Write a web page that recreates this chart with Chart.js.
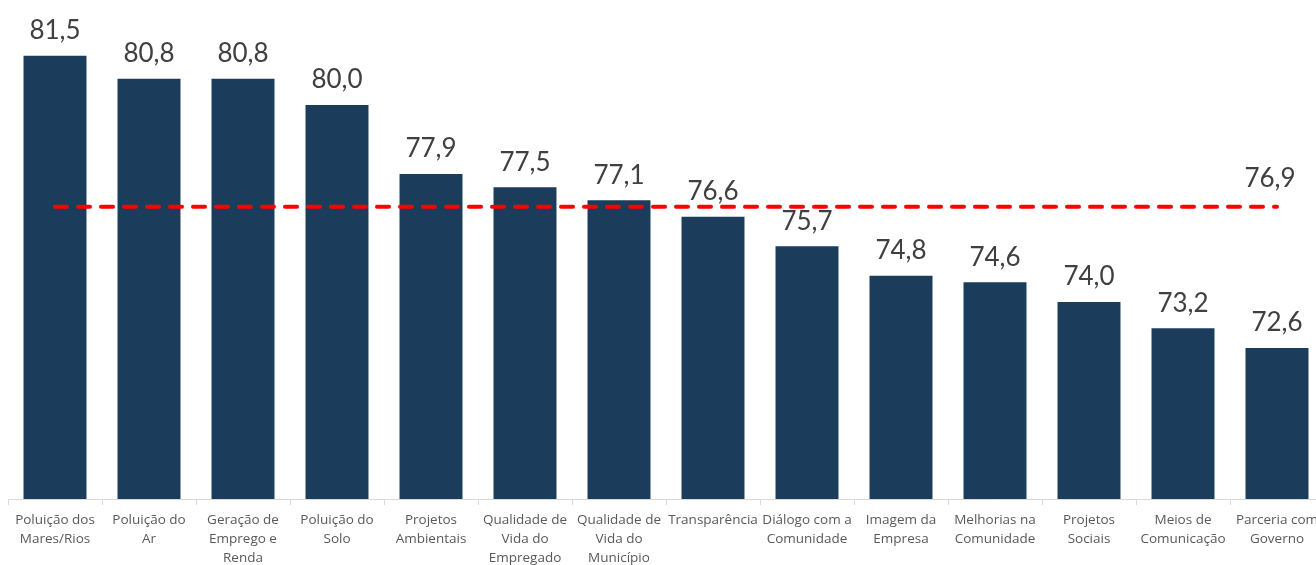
<!DOCTYPE html>
<html>
<head>
<meta charset="utf-8">
<script src="https://cdn.jsdelivr.net/npm/chart.js@4"></script>
<style>
  html, body { margin: 0; padding: 0; background: #ffffff; overflow: hidden; }
  #wrap { width: 1330px; height: 565px; position: relative; }
</style>
</head>
<body>
<div id="wrap"><canvas id="c" width="1330" height="565"></canvas></div>
<script>
const categories = [
  ["Poluição dos", "Mares/Rios"],
  ["Poluição do", "Ar"],
  ["Geração de", "Emprego e", "Renda"],
  ["Poluição do", "Solo"],
  ["Projetos", "Ambientais"],
  ["Qualidade de", "Vida do", "Empregado"],
  ["Qualidade de", "Vida do", "Município"],
  ["Transparência"],
  ["Diálogo com a", "Comunidade"],
  ["Imagem da", "Empresa"],
  ["Melhorias na", "Comunidade"],
  ["Projetos", "Sociais"],
  ["Meios de", "Comunicação"],
  ["Parceria com", "Governo"]
];
const scores = [81.5, 80.8, 80.8, 80.0, 77.9, 77.5, 77.1, 76.6, 75.7, 74.8, 74.6, 74.0, 73.2, 72.6];
const averageValue = 76.9;
const averageLine = categories.map(() => averageValue);

const fmt = v => v.toFixed(1).replace('.', ',');

const labelPlugin = {
  id: 'valueLabels',
  afterDatasetsDraw(chart) {
    const ctx = chart.ctx;
    ctx.save();
    ctx.font = '26px Lato';
    ctx.fillStyle = '#404040';
    ctx.textAlign = 'center';
    ctx.textBaseline = 'middle';
    const barMeta = chart.getDatasetMeta(0);
    barMeta.data.forEach((el, i) => {
      ctx.fillText(fmt(scores[i]), el.x, el.y - 25);
    });
    const lineMeta = chart.getDatasetMeta(1);
    const last = lineMeta.data[lineMeta.data.length - 1];
    ctx.fillText(fmt(averageValue), last.x - 7, last.y - 28);
    ctx.restore();
  }
};

new Chart(document.getElementById('c'), {
  type: 'bar',
  data: {
    labels: categories,
    datasets: [
      {
        type: 'bar',
        data: scores,
        backgroundColor: '#1b3d5b',
        barPercentage: 0.67,
        categoryPercentage: 1.0,
        order: 2
      },
      {
        type: 'line',
        data: averageLine,
        borderColor: '#ff0000',
        borderWidth: 4,
        borderDash: [12, 11],
        borderCapStyle: 'round',
        pointRadius: 0,
        fill: false,
        order: 1
      }
    ]
  },
  options: {
    responsive: false,
    animation: false,
    layout: { padding: { left: 8, right: 6, top: 0, bottom: 0 } },
    plugins: {
      legend: { display: false },
      tooltip: { enabled: false },
      title: { display: false }
    },
    scales: {
      x: {
        grid: {
          display: true,
          drawOnChartArea: false,
          drawTicks: true,
          tickLength: 6,
          color: '#d9d9d9',
          offset: true
        },
        border: { display: true, color: '#d9d9d9', width: 1 },
        ticks: {
          autoSkip: false,
          maxRotation: 0,
          minRotation: 0,
          color: '#595959',
          font: { family: "'Open Sans', sans-serif", size: 13.5, lineHeight: 1.4 },
          padding: 6
        },
        afterFit(scale) { scale.height = 66; }
      },
      y: {
        display: false,
        min: 68,
        max: 83.2
      }
    }
  },
  plugins: [labelPlugin]
});
</script>
</body>
</html>
